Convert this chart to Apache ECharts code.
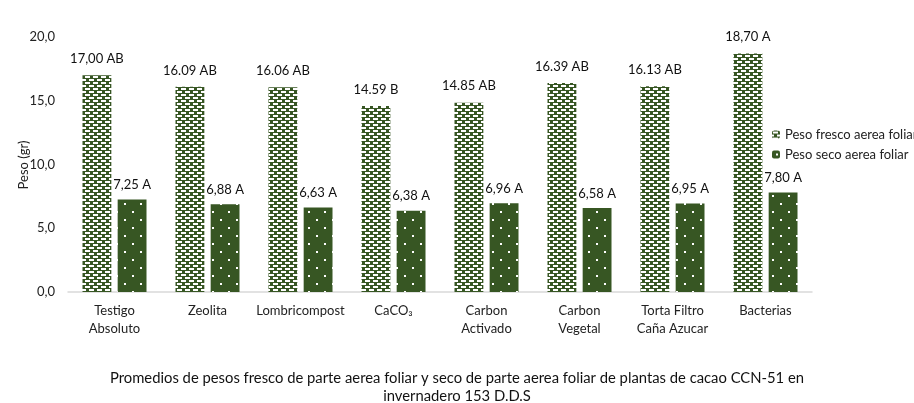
<!DOCTYPE html>
<html>
<head>
<meta charset="utf-8">
<script src="https://cdn.jsdelivr.net/npm/echarts@6/dist/echarts.min.js"></script>
<style>
  html, body { margin: 0; padding: 0; background: #fff; }
  #chart { width: 914px; height: 403px; }
</style>
</head>
<body>
<div id="chart"></div>
<script>
var categories = ['Testigo\nAbsoluto', 'Zeolita', 'Lombricompost', 'CaCO₃', 'Carbon\nActivado', 'Carbon\nVegetal', 'Torta Filtro\nCaña Azucar', 'Bacterias'];
var fresco = [17.00, 16.09, 16.06, 14.59, 14.85, 16.39, 16.13, 18.70];
var seco = [7.25, 6.88, 6.63, 6.38, 6.96, 6.58, 6.95, 7.80];
var frescoLabels = ['17,00 AB', '16.09 AB', '16.06 AB', '14.59 B', '14.85 AB', '16.39 AB', '16.13 AB', '18,70 A'];
var secoLabels = ['7,25 A', '6,88 A', '6,63 A', '6,38 A', '6,96 A', '6,58 A', '6,95 A', '7,80 A'];

var green = '#375623';

// brick-like white dashes
function makeDashPattern() {
    var c = document.createElement('canvas');
    c.width = 8; c.height = 6;
    var ctx = c.getContext('2d');
    ctx.fillStyle = green;
    ctx.fillRect(0, 0, 8, 6);
    ctx.fillStyle = '#ffffff';
    ctx.fillRect(1, 1, 5, 2);
    ctx.fillRect(5, 4, 3, 2);
    ctx.fillRect(0, 4, 2, 2);
    return c;
}

// sparse white dots
function makeDotPattern() {
    var c = document.createElement('canvas');
    c.width = 16; c.height = 16;
    var ctx = c.getContext('2d');
    ctx.fillStyle = green;
    ctx.fillRect(0, 0, 16, 16);
    ctx.fillStyle = '#ffffff';
    ctx.fillRect(4, 3, 2, 2);
    ctx.fillRect(12, 11, 2, 2);
    return c;
}

var font = 'Lato';
var myChart = echarts.init(document.getElementById('chart'));

var option = {
    animation: false,
    textStyle: { fontFamily: font },
    title: {
        text: 'Promedios de pesos fresco de parte aerea foliar y seco de parte aerea foliar de plantas de cacao CCN-51 en\ninvernadero 153 D.D.S',
        left: 'center',
        top: 364,
        textStyle: { fontSize: 14.8, fontWeight: 'normal', color: '#111', lineHeight: 18, fontFamily: font }
    },
    // y axis title, placed by hand closer to the tick labels
    graphic: [{
        type: 'text',
        x: 24,
        y: 165,
        rotation: Math.PI / 2,
        style: {
            text: 'Peso (gr)',
            fontSize: 13,
            fontFamily: font,
            fill: '#222',
            align: 'center',
            verticalAlign: 'middle'
        }
    }],
    legend: {
        orient: 'vertical',
        left: 767,
        top: 123,
        itemWidth: 8,
        itemHeight: 8,
        itemGap: 7,
        textStyle: { fontSize: 13, color: '#222', fontFamily: font },
        data: ['Peso fresco aerea foliar', 'Peso seco aerea foliar']
    },
    grid: {
        left: 68,
        right: 102,
        top: 37,
        bottom: 111
    },
    xAxis: {
        type: 'category',
        data: categories,
        axisLine: { lineStyle: { color: '#d9d9d9', width: 1.5 } },
        axisTick: { show: false },
        axisLabel: { color: '#222', fontSize: 13, margin: 10, lineHeight: 18, interval: 0 }
    },
    yAxis: {
        type: 'value',
        min: 0,
        max: 20,
        interval: 5,
        axisLine: { show: false },
        axisTick: { show: false },
        splitLine: { show: false },
        axisLabel: {
            color: '#222',
            fontSize: 13,
            margin: 13,
            formatter: function (v) { return v.toFixed(1).replace('.', ','); }
        }
    },
    series: [
        {
            name: 'Peso fresco aerea foliar',
            type: 'bar',
            data: fresco,
            barWidth: '31%',
            barGap: '22%',
            itemStyle: { color: { image: makeDashPattern(), repeat: 'repeat' } },
            label: {
                show: true,
                position: 'top',
                distance: 10,
                fontSize: 13,
                color: '#111',
                formatter: function (p) { return frescoLabels[p.dataIndex]; }
            }
        },
        {
            name: 'Peso seco aerea foliar',
            type: 'bar',
            data: seco,
            barWidth: '31%',
            itemStyle: { color: { image: makeDotPattern(), repeat: 'repeat' } },
            label: {
                show: true,
                position: 'top',
                distance: 8,
                fontSize: 13,
                color: '#111',
                formatter: function (p) { return secoLabels[p.dataIndex]; }
            }
        }
    ]
};

option && myChart.setOption(option);
</script>
</body>
</html>
